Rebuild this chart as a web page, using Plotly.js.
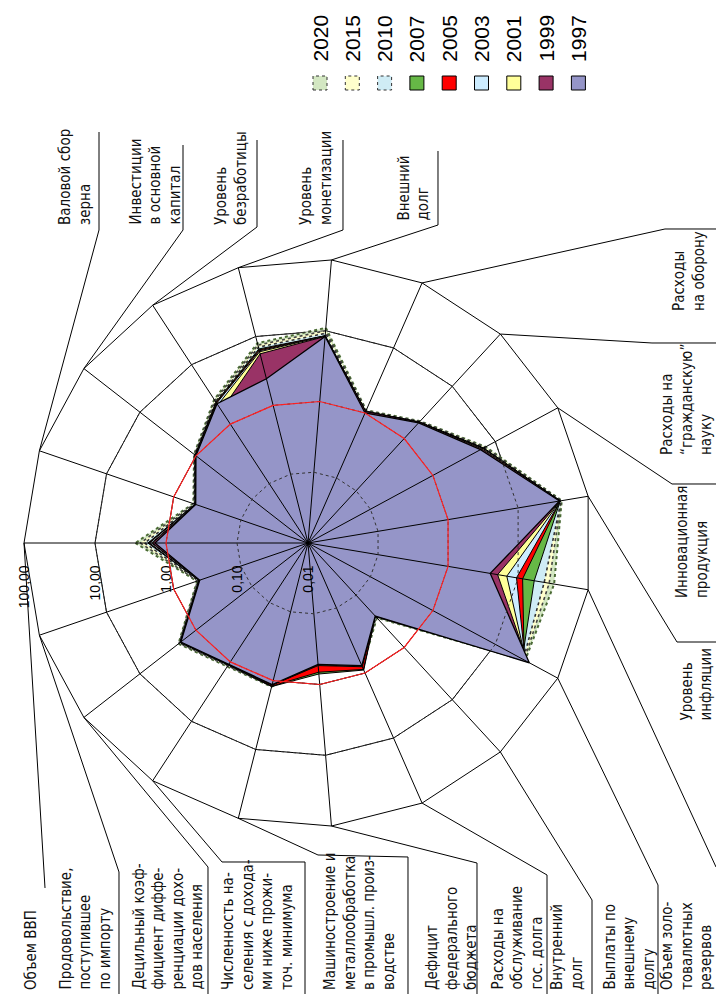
<!DOCTYPE html>
<html><head><meta charset="utf-8">
<script src="https://cdn.plot.ly/plotly-3.0.1.min.js"></script>
<style>html,body{margin:0;padding:0;background:#fff}#chart{width:716px;height:994px}</style>
</head><body><div id="chart"></div>
<script>
// ---------- DATA ----------
const categories = [
  'Объем ВВП',
  'Продовольствие, поступившее по импорту',
  'Децильный коэффициент дифференциации доходов населения',
  'Численность населения с доходами ниже прожиточного минимума',
  'Машиностроение и металлообработка в промышл. производстве',
  'Дефицит федерального бюджета',
  'Расходы на обслуживание гос. долга',
  'Внутренний долг',
  'Выплаты по внешнему долгу',
  'Объем золотовалютных резервов',
  'Уровень инфляции',
  'Инновационная продукция',
  'Расходы на "гражданскую" науку',
  'Расходы на оборону',
  'Внешний долг',
  'Уровень монетизации',
  'Уровень безработицы',
  'Инвестиции в основной капитал',
  'Валовой сбор зерна'
];
const labelLines = [
  'Объем ВВП',
  'Продовольствие,<br>поступившее<br>по импорту',
  'Децильный коэф-<br>фициент диффе-<br>ренциации дохо-<br>дов населения',
  'Численность на-<br>селения с дохода-<br>ми ниже прожи-<br>точ. минимума',
  'Машиностроение и<br>металлообработка<br>в промышл. произ-<br>водстве',
  'Дефицит<br>федерального<br>бюджета',
  'Расходы на<br>обслуживание<br>гос. долга',
  'Внутренний<br>долг',
  'Выплаты по<br>внешнему<br>долгу',
  'Объем золо-<br>товалютных<br>резервов',
  'Уровень<br>инфляции',
  'Инновационная<br>продукция',
  'Расходы на<br>“гражданскую”<br>науку',
  'Расходы<br>на оборону',
  'Внешний<br>долг',
  'Уровень<br>монетизации',
  'Уровень<br>безработицы',
  'Инвестиции<br>в основной<br>капитал',
  'Валовой сбор<br>зерна'
];
const years = ['1997','1999','2001','2003','2005','2007','2010','2015','2020'];
const v1997 = [1.43,0.41,1.86,1.10,1.14,0.52,0.77,0.25,35,4.0,39,5.8,2.00,1.00,8.3,2.43,2.20,1.00,0.47];
const v1999 = [1.55,0.41,1.86,1.10,1.15,0.52,0.77,0.25,33,5.1,40,6.1,2.05,1.05,8.3,5.6,1.70,1.00,0.47];
const v2001 = [1.60,0.41,1.88,1.10,1.15,0.53,0.78,0.25,31,6.9,40,6.3,2.05,1.05,8.4,6.0,2.10,1.00,0.47];
const v2003 = [1.70,0.42,1.90,1.12,1.16,0.54,0.80,0.25,30,9.5,40,6.4,2.06,1.05,8.4,6.2,2.25,1.02,0.48];
const v2005 = [1.75,0.42,1.90,1.12,1.20,0.67,0.88,0.25,29,11.6,40,6.4,2.06,1.05,8.5,6.4,2.30,1.03,0.48];
const v2007 = [1.80,0.42,1.92,1.13,1.22,0.71,0.90,0.25,27,17,40,6.5,2.07,1.06,8.5,6.6,2.35,1.04,0.48];
const v2010 = [2.00,0.43,1.95,1.15,1.20,0.55,0.80,0.26,28,23.6,41,6.6,2.10,1.07,9.2,7.0,2.40,1.05,0.49];
const v2015 = [2.30,0.44,2.00,1.17,1.20,0.56,0.81,0.26,29,27.8,41,6.8,2.12,1.08,10,7.5,2.50,1.06,0.50];
const v2020 = [2.70,0.45,2.05,1.20,1.22,0.57,0.82,0.27,30,32.7,42,7.0,2.15,1.10,11,8.0,2.60,1.08,0.51];
const seriesValues = {'1997':v1997,'1999':v1999,'2001':v2001,'2003':v2003,'2005':v2005,'2007':v2007,'2010':v2010,'2015':v2015,'2020':v2020};
const radialTickVals = [0.01, 0.1, 1, 10, 100];
const radialTickText = ['0,01','0,10','1,00','10,00','100,00'];
const thresholdLevel = 1;
const dottedRings = [0.1, 1, 10];

// ---------- STYLES ----------
const styles = {
  '1997': {fill:'#9595C8', line:'#000', dash:'solid', width:1.3},
  '1999': {fill:'#993366', line:'#000', dash:'solid', width:1},
  '2001': {fill:'#FFFF99', line:'#000', dash:'solid', width:1},
  '2003': {fill:'#CCECFF', line:'#000', dash:'solid', width:1},
  '2005': {fill:'#FF0000', line:'#000', dash:'solid', width:1},
  '2007': {fill:'#66B846', line:'#000', dash:'solid', width:1},
  '2010': {fill:'#CFECF5', line:'#333', dash:'dot', width:1.6},
  '2015': {fill:'#FFFFCC', line:'#444', dash:'dot', width:1.6},
  '2020': {fill:'#D3E7C2', line:'#4a6a34', dash:'dot', width:2}
};
const W = 716, H = 994, CX = 308, CY = 543, R = 284;
const N = categories.length;
const dom = {x:[(CX-R)/W,(CX+R)/W], y:[1-(CY+R)/H, 1-(CY-R)/H]};
const LABEL_FONT = {family:'Liberation Sans Narrow, DejaVu Sans Condensed, Arial Narrow, sans-serif', size:15, color:'#111'};

// label placement (screen px) : left x, bottom y, bracket path from label to vertex
const labelPlace = [
  {x:20,  b:992, p:[[45,888]]},
  {x:54,  b:992, p:[[119,994],[119,872]]},
  {x:127, b:992, p:[[208,994],[208,867]]},
  {x:217, b:992, p:[[305,994],[305,862],[222,862]]},
  {x:319, b:992, p:[[408,994],[408,857],[318,855]]},
  {x:421, b:992, p:[[477,994],[477,863]]},
  {x:486, b:992, p:[[547,994],[547,875]]},
  {x:546, b:992, p:[[592,994],[592,900]]},
  {x:598, b:992, p:[[658,994],[658,885]]},
  {x:656, b:992, p:[[716,867]]},
  {x:675, b:723, p:[[716,642],[677,642]]},
  {x:671, b:600, p:[[716,484],[672,484]]},
  {x:656, b:457, p:[[716,343],[652,343]]},
  {x:668, b:313, p:[[716,229],[665,229]]},
  {x:393, b:223, p:[[438,151],[438,225]]},
  {x:295, b:227, p:[[343,140],[343,230]]},
  {x:210, b:227, p:[[257,140],[257,227]]},
  {x:124, b:227, p:[[183,145],[183,230]]},
  {x:54,  b:227, p:[[99,132],[99,230]]}
];

// ---------- TRACES ----------
const closeR = a => a.concat([a[0]]);
const closeT = categories.concat([categories[0]]);
const traces = [];
years.slice().reverse().forEach(y => {
  const s = styles[y];
  traces.push({
    type:'scatterpolar', subplot:'polar', name:y,
    r: closeR(seriesValues[y]), theta: closeT,
    mode:'lines', fill:'toself', fillcolor:s.fill,
    line:{color:s.line, width:s.width, dash:s.dash},
    hoverinfo:'skip', showlegend:false
  });
});
traces.push({
  type:'scatterpolar', subplot:'polar2',
  r: closeR(categories.map(() => thresholdLevel)), theta: closeT,
  mode:'lines', line:{color:'#ff2020', width:1.2}, hoverinfo:'skip', showlegend:false
});
traces.push({
  type:'scatterpolar', subplot:'polar2',
  r:[radialTickVals[0]], theta:[categories[0]], mode:'markers',
  marker:{color:'#000', size:8}, hoverinfo:'skip', showlegend:false
});

const angularCommon = {
  type:'category', categoryarray:categories, categoryorder:'array',
  rotation:180, direction:'counterclockwise',
  showticklabels:false, ticks:''
};
const layout = {
  width:W, height:H, margin:{l:0,r:0,t:0,b:0},
  paper_bgcolor:'#fff', showlegend:false,
  polar:{
    domain:dom, gridshape:'linear', bgcolor:'#fff',
    angularaxis:Object.assign({}, angularCommon, {showgrid:false, showline:true, linecolor:'#000', linewidth:1}),
    radialaxis:{
      type:'log', range:[-2,2], angle:180, side:'counterclockwise', tickangle:90,
      tickvals:radialTickVals, ticktext:radialTickText,
      ticks:'outside', ticklen:17, tickcolor:'rgba(0,0,0,0)',
      showline:false, showgrid:true, gridcolor:'#000', gridwidth:1,
      tickfont:{family:'Liberation Sans, Arial, sans-serif', size:14, color:'#000'},
      layer:'above traces'
    }
  },
  polar2:{
    domain:dom, gridshape:'linear', bgcolor:'rgba(0,0,0,0)',
    angularaxis:Object.assign({}, angularCommon, {showgrid:true, gridcolor:'#000', gridwidth:1, showline:false}),
    radialaxis:{
      type:'log', range:[-2,2], angle:180, tickvals:dottedRings, showticklabels:false, ticks:'',
      showline:false, showgrid:true, gridcolor:'#333', gridwidth:1, griddash:'dot'
    }
  },
  annotations:[], shapes:[]
};

const px2x = x => x / W, px2y = y => 1 - y / H;
function vertexPx(i){
  const a = (180 + i * 360 / N) * Math.PI / 180;
  return [CX + R * Math.cos(a), CY - R * Math.sin(a)];
}
labelPlace.forEach((lp, i) => {
  layout.annotations.push({
    xref:'paper', yref:'paper', x:px2x(lp.x), y:px2y(lp.b),
    xanchor:'left', yanchor:'bottom', align:'left', textangle:-90,
    text:labelLines[i], showarrow:false, font:LABEL_FONT
  });
  const pts = lp.p.concat([vertexPx(i)]);
  const d = pts.map((pt, k) => (k ? 'L' : 'M') + px2x(pt[0]).toFixed(5) + ',' + px2y(pt[1]).toFixed(5)).join(' ');
  layout.shapes.push({type:'path', xref:'paper', yref:'paper', path:d, line:{color:'#000', width:1}});
});
const legendOrder = years.slice().reverse();
legendOrder.forEach((y, j) => {
  const xc = 320 + 32.3 * j;
  const s = styles[y];
  layout.annotations.push({
    xref:'paper', yref:'paper', x:px2x(xc), y:px2y(64), xanchor:'center', yanchor:'bottom',
    textangle:-90, text:y, showarrow:false,
    font:{family:'Liberation Sans, Arial, sans-serif', size:21, color:'#000'}
  });
  layout.shapes.push({
    type:'rect', xref:'paper', yref:'paper',
    x0:px2x(xc-7), x1:px2x(xc+7), y0:px2y(90), y1:px2y(76),
    fillcolor:s.fill, line:{color:s.dash==='dot' ? '#333' : '#000', width:1, dash:s.dash==='dot' ? 'dot' : 'solid'}
  });
});

Plotly.newPlot('chart', traces, layout, {staticPlot:true});
</script></body></html>
